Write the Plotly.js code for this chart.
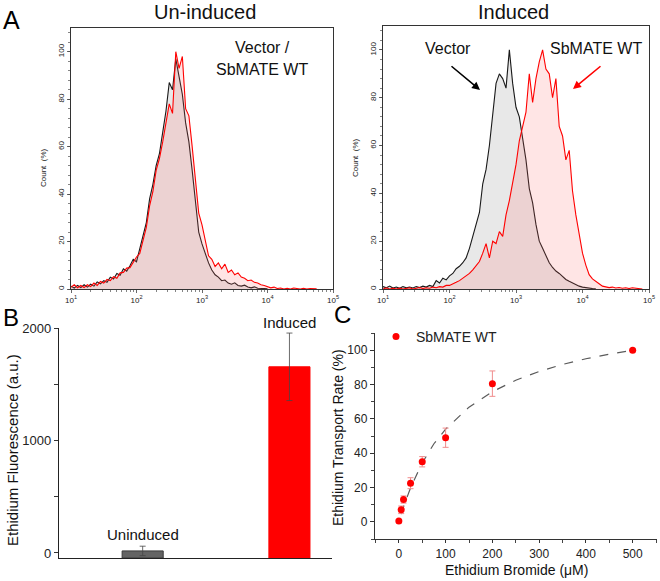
<!DOCTYPE html>
<html>
<head>
<meta charset="utf-8">
<script src="https://cdn.plot.ly/plotly-3.0.1.min.js"></script>
<style>html,body{margin:0;padding:0;background:#fff;}#chart{width:660px;height:581px;}</style>
</head>
<body>
<div id="chart"></div>
<script>
// ---- Panel A: flow cytometry histograms (bin position as log10 of fluorescence) ----
const binExp = [1.00,1.05,1.10,1.15,1.20,1.25,1.30,1.35,1.40,1.45,
  1.50,1.55,1.60,1.65,1.70,1.75,1.80,1.85,1.90,1.95,
  2.00,2.05,2.10,2.15,2.20,2.25,2.30,2.35,2.40,2.45,
  2.50,2.55,2.60,2.65,2.70,2.75,2.80,2.85,2.90,2.95,
  3.00,3.05,3.10,3.15,3.20,3.25,3.30,3.35,3.40,3.45,
  3.50,3.55,3.60,3.65,3.70,3.75,3.80,3.85,3.90,3.95,
  4.00,4.05,4.10,4.15,4.20,4.25,4.30,4.35,4.40,4.45,
  4.50,4.55,4.60,4.65,4.70,4.75,4.80,4.85,4.90];

const uninducedVector = [1.2,0.4,1.5,0.6,1.8,0.8,2.0,1.2,3.0,2.2,
  3.5,2.8,5.0,4.2,6.5,5.8,8.5,7.5,9.8,12.5,
  11.5,17,23,28,38,44,52,57,66,75,
  87,84,97,90,82,70,62,50,36,24,
  19,15,11,8,6,5,3.5,3.8,2.5,2.0,
  2.6,1.5,1.2,1.6,0.8,0.5,0.9,0.3,0.4,0.2,
  0.1,null,null,null,null,null,null,null,null,null,
  null,null,null,null,null,null,null,null,null];

const uninducedSbMATE = [0.8,1.8,0.5,1.5,0.6,1.8,1.0,2.5,1.5,3.2,
  2.5,4.0,3.5,5.2,4.5,6.8,7.0,8.8,9.0,11.5,
  13.5,15,21,26,35,41,50,55,62,70,
  78,74,100,93,98,76,73,60,47,32,
  27,20,14,12.5,9.5,11,8.5,10.5,7.0,8.0,
  6.0,6.8,5.0,4.5,3.5,3.8,2.8,2.5,1.8,1.5,
  1.0,0.5,0.8,0.2,0.4,0,0.3,0,0.4,0.2,
  0,0.3,0,0.2,0,0.1,null,null,null];

const inducedVector = [1.0,0.5,1.2,0.4,0.8,0.3,1.0,0.5,0.8,0.4,
  1.0,0.6,1.2,0.8,1.5,1.0,3.5,2.5,4.5,3.8,
  5.5,6.5,8.5,9.5,11,13,17,22,27,32,
  44,50,60,74,86,90,88,84,100,86,
  76,72,63,54,42,36,27,20,17,14,
  11,9,7.5,6.5,5.2,4.0,3.2,2.5,1.8,1.2,
  0.8,0.5,0.3,0.2,0.1,null,null,null,null,null,
  null,null,null,null,null,null,null,null,null];

const inducedSbMATE = [0,0.5,0,0.3,0,0.4,0,0.2,0.5,0,
  0.3,0.6,0.2,0.5,0.3,0.8,0.5,1.0,0.8,1.5,
  1.5,2.0,2.8,3.5,4.5,5.2,6.5,8,10,11.5,
  15,19,13,20,19,24,22,31,37,45,
  52,62,68,74,90,78,88,95,100,92,
  90,80,88,68,64,54,58,41,31,23,
  15,10,6,4.2,3.0,2.2,1.2,1.0,0.6,0.8,
  0.4,0.6,0.3,0.5,0.2,0.5,0.3,0.4,0];

const histTickVals = [10,100,1000,10000,100000];
const histTickText = ['10<sup>1</sup>','10<sup>2</sup>','10<sup>3</sup>','10<sup>4</sup>','10<sup>5</sup>'];
const histMinorDigits = [2,3,4,5,6,7,8,9];

// ---- Panel B: bar chart ----
const barCategories = ['Uninduced','Induced'];
const barPositions = [1, 2];
const barValues = [18, 1655];
const barErrors = [42, 300];
const barAxisMin = -45;

// ---- Panel C: transport kinetics ----
const ethBr = [0, 5, 10, 25, 50, 100, 200, 500];
const transportRate = [0.5, 7, 13, 22.5, 35, 49, 80.5, 100];
const transportErr = [0, 2.2, 2.1, 3.2, 3.0, 5.6, 7.4, 0.5];
const fitX = [5, 10, 25, 50, 75, 100, 150, 200, 250, 300, 350, 400, 450, 500];
const fitY = [4.5, 8.8, 19.8, 34.3, 45.5, 54, 66.8, 75.8, 82.5, 87.6, 91.7, 95, 97.7, 100];

const FONT = 'Liberation Sans, Arial, sans-serif';
const toVal = e => Math.pow(10, e);
const binX = binExp.map(toVal);
const minorVals = [];
[10,100,1000,10000].forEach(d => histMinorDigits.forEach(m => minorVals.push(d*m)));

const BLACK = 'rgb(25,25,25)';
const RED = 'rgb(255,0,0)';
const GRAYFILL = 'rgba(170,170,170,0.27)';
const REDFILL = 'rgba(255,100,100,0.17)';

function histTrace(y, xa, ya, color, fill) {
  return {x: binX, y: y, xaxis: xa, yaxis: ya, type: 'scatter', mode: 'lines',
    line: {color: color, width: 1.1}, fill: 'tozeroy', fillcolor: fill,
    connectgaps: false, showlegend: false, hoverinfo: 'skip'};
}

const traces = [
  histTrace(uninducedVector, 'x', 'y', BLACK, GRAYFILL),
  histTrace(uninducedSbMATE, 'x', 'y', RED, REDFILL),
  histTrace(inducedVector, 'x2', 'y2', BLACK, GRAYFILL),
  histTrace(inducedSbMATE, 'x2', 'y2', RED, REDFILL),
  // bars drawn up from the bottom of the axis, as in the original
  {x: barPositions, y: barValues.map(v => v - barAxisMin), base: barAxisMin, type: 'bar', xaxis: 'x3', yaxis: 'y3', width: 0.28,
    marker: {color: ['rgb(100,100,100)', 'rgb(255,0,0)'], line: {color: ['rgb(60,60,60)', 'rgb(255,0,0)'], width: 1}},
    error_y: {type: 'data', array: barErrors, visible: true, color: 'rgb(70,70,70)', thickness: 0.8, width: 3},
    showlegend: false, textposition: 'none', hoverinfo: 'skip'},
  {x: fitX, y: fitY, xaxis: 'x4', yaxis: 'y4', type: 'scatter', mode: 'lines',
    line: {color: 'rgb(90,90,90)', width: 1.2, dash: 'dash'}, showlegend: false, hoverinfo: 'skip'},
  {x: ethBr, y: transportRate, xaxis: 'x4', yaxis: 'y4', type: 'scatter', mode: 'markers',
    name: 'SbMATE WT', marker: {color: RED, size: 7},
    error_y: {type: 'data', array: transportErr, visible: true, color: 'rgb(240,140,140)', thickness: 1, width: 3},
    showlegend: true}
];

function histX(domain) {
  return {type: 'log', domain: domain, range: [1, 5], tickvals: histTickVals, ticktext: histTickText,
    ticks: 'outside', ticklen: 3, tickwidth: 0.8, tickcolor: '#444',
    minor: {tickvals: minorVals, ticks: 'outside', ticklen: 2, tickcolor: '#666'},
    showline: true, linecolor: '#333', linewidth: 1, mirror: true, showgrid: false, zeroline: false,
    tickfont: {family: FONT, size: 8, color: '#222'}, fixedrange: true};
}
function histY(domain, anchor) {
  return {domain: domain, anchor: anchor, range: [0, 110], tickvals: [0,20,40,60,80,100],
    tickangle: -90, ticks: 'outside', ticklen: 3, tickwidth: 0.8, tickcolor: '#444',
    minor: {dtick: 4, ticks: 'outside', ticklen: 2, tickcolor: '#666'},
    showline: true, linecolor: '#333', linewidth: 1, mirror: true, showgrid: false, zeroline: false,
    tickfont: {family: FONT, size: 8, color: '#222'}, fixedrange: true};
}

const P = (px) => px / 660;
const Q = (py) => 1 - py / 581;

const layout = {
  width: 660, height: 581, margin: {l: 0, r: 0, t: 0, b: 0},
  paper_bgcolor: '#fff', plot_bgcolor: 'rgba(0,0,0,0)',
  font: {family: FONT, color: '#222'},
  xaxis: Object.assign(histX([P(71), P(333)]), {anchor: 'y'}),
  yaxis: histY([Q(289), Q(28)], 'x'),
  xaxis2: Object.assign(histX([P(383), P(649)]), {anchor: 'y2'}),
  yaxis2: histY([Q(289), Q(26)], 'x2'),
  xaxis3: {domain: [P(59), P(332)], anchor: 'y3', range: [0.43, 2.29], showticklabels: false,
    ticks: '', showline: true, linecolor: '#222', linewidth: 1.2, showgrid: false, zeroline: false, fixedrange: true},
  yaxis3: {domain: [Q(558), Q(328)], anchor: 'x3', range: [barAxisMin, 2000],
    tickvals: [0, 500, 1000, 1500, 2000], ticktext: ['0', ' ', '1000', ' ', '2000'],
    ticks: 'outside', ticklen: 4, tickcolor: '#333', showline: true, linecolor: '#222', linewidth: 1.2,
    showgrid: false, zeroline: false, tickfont: {family: FONT, size: 13, color: '#222'}, fixedrange: true},
  xaxis4: {domain: [P(375), P(657)], anchor: 'y4', range: [-51, 552],
    tickvals: [0, 100, 200, 300, 400, 500], ticks: 'outside', ticklen: 3, tickcolor: '#333',
    minor: {tickvals: [-50, 50, 150, 250, 350, 450, 550], ticks: 'outside', ticklen: 2.5, tickcolor: '#444'},
    showline: true, linecolor: '#333', linewidth: 1.2, showgrid: false, zeroline: false,
    tickfont: {family: FONT, size: 12, color: '#222'}, fixedrange: true},
  yaxis4: {domain: [Q(539), Q(333)], anchor: 'x4', range: [-10, 110],
    tickvals: [0, 20, 40, 60, 80, 100], ticks: 'outside', ticklen: 4, tickcolor: '#333',
    minor: {tickvals: [-10, 10, 30, 50, 70, 90, 110], ticks: 'outside', ticklen: 2.5, tickcolor: '#444'},
    showline: true, linecolor: '#333', linewidth: 1.2, showgrid: false, zeroline: false,
    tickfont: {family: FONT, size: 12, color: '#222'}, fixedrange: true},
  legend: {x: P(376), y: Q(321), xanchor: 'left', yanchor: 'top', bgcolor: 'rgba(0,0,0,0)',
    font: {family: FONT, size: 14, color: '#222'}, itemwidth: 30, tracegroupgap: 0},
  showlegend: true,
  annotations: [
    // panel letters
    {text: 'A', x: P(1), y: Q(20), xref: 'paper', yref: 'paper', xanchor: 'left', yanchor: 'middle', showarrow: false, font: {size: 25, family: FONT, color: '#000'}},
    {text: 'B', x: P(1), y: Q(317), xref: 'paper', yref: 'paper', xanchor: 'left', yanchor: 'middle', showarrow: false, font: {size: 24, family: FONT, color: '#000'}},
    {text: 'C', x: P(332), y: Q(314), xref: 'paper', yref: 'paper', xanchor: 'left', yanchor: 'middle', showarrow: false, font: {size: 24, family: FONT, color: '#000'}},
    // panel A titles
    {text: 'Un-induced', x: P(205), y: Q(12), xref: 'paper', yref: 'paper', xanchor: 'center', yanchor: 'middle', showarrow: false, font: {size: 20, family: FONT, color: '#111'}},
    {text: 'Induced', x: P(513), y: Q(12), xref: 'paper', yref: 'paper', xanchor: 'center', yanchor: 'middle', showarrow: false, font: {size: 20, family: FONT, color: '#111'}},
    // y titles panel A
    {text: 'Count  (%)', x: P(43), y: Q(168), xref: 'paper', yref: 'paper', xanchor: 'center', yanchor: 'middle', textangle: -90, showarrow: false, font: {size: 8, family: FONT, color: '#222'}},
    {text: 'Count  (%)', x: P(355), y: Q(158), xref: 'paper', yref: 'paper', xanchor: 'center', yanchor: 'middle', textangle: -90, showarrow: false, font: {size: 8, family: FONT, color: '#222'}},
    // labels panel A
    {text: 'Vector /', x: P(262), y: Q(48), xref: 'paper', yref: 'paper', xanchor: 'center', yanchor: 'middle', showarrow: false, font: {size: 16, family: FONT, color: '#111'}},
    {text: 'SbMATE WT', x: P(262), y: Q(70), xref: 'paper', yref: 'paper', xanchor: 'center', yanchor: 'middle', showarrow: false, font: {size: 16, family: FONT, color: '#111'}},
    {text: 'Vector', x: P(448), y: Q(49), xref: 'paper', yref: 'paper', xanchor: 'center', yanchor: 'middle', showarrow: false, font: {size: 16, family: FONT, color: '#111'}},
    {text: 'SbMATE WT', x: P(596), y: Q(49), xref: 'paper', yref: 'paper', xanchor: 'center', yanchor: 'middle', showarrow: false, font: {size: 16, family: FONT, color: '#111'}},
    {text: '', x: P(480), y: Q(90), xref: 'paper', yref: 'paper', showarrow: true, ax: -30, ay: -25, arrowhead: 2, arrowsize: 1, arrowwidth: 1.6, arrowcolor: '#000'},
    {text: '', x: P(573), y: Q(89), xref: 'paper', yref: 'paper', showarrow: true, ax: 29, ay: -24, arrowhead: 2, arrowsize: 1, arrowwidth: 1.6, arrowcolor: RED},
    // panel B
    {text: 'Ethidium Fluorescence (a.u.)', x: P(12), y: Q(450), xref: 'paper', yref: 'paper', xanchor: 'center', yanchor: 'middle', textangle: -90, showarrow: false, font: {size: 15, family: FONT, color: '#111'}},
    {text: barCategories[0], x: barPositions[0], y: 160, xref: 'x3', yref: 'y3', xanchor: 'center', yanchor: 'middle', showarrow: false, font: {size: 15, family: FONT, color: '#111'}},
    {text: barCategories[1], x: barPositions[1], y: Q(322), xref: 'x3', yref: 'paper', xanchor: 'center', yanchor: 'middle', showarrow: false, font: {size: 15, family: FONT, color: '#111'}},
    // panel C
    {text: 'Ethidium Transport Rate (%)', x: P(338), y: Q(438), xref: 'paper', yref: 'paper', xanchor: 'center', yanchor: 'middle', textangle: -90, showarrow: false, font: {size: 14, family: FONT, color: '#111'}},
    {text: 'Ethidium Bromide (\u03bcM)', x: P(516), y: Q(570), xref: 'paper', yref: 'paper', xanchor: 'center', yanchor: 'middle', showarrow: false, font: {size: 14, family: FONT, color: '#111'}}
  ]
};

Plotly.newPlot('chart', traces, layout, {displayModeBar: false, staticPlot: true});
</script>
</body>
</html>
